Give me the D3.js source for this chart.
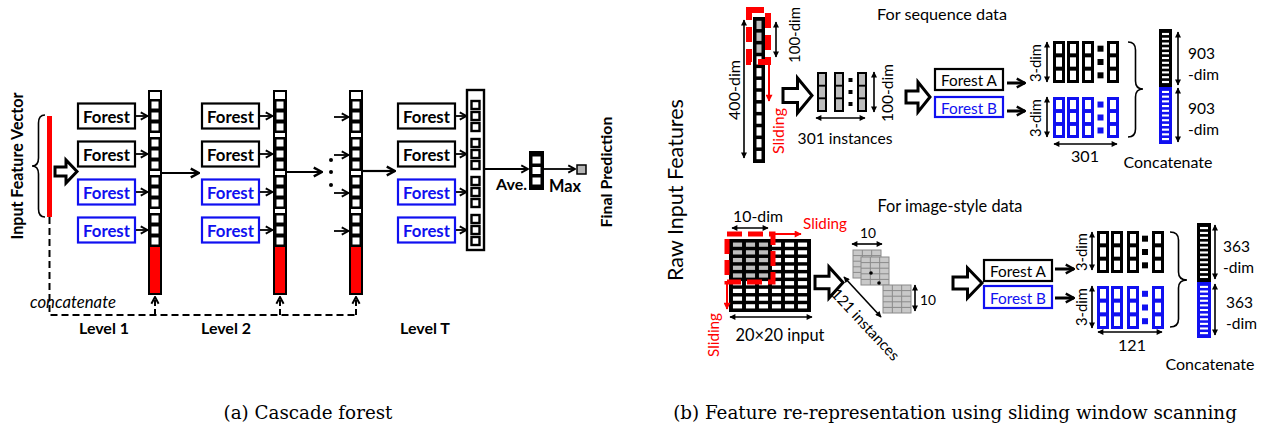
<!DOCTYPE html>
<html><head><meta charset="utf-8">
<script src="https://cdn.jsdelivr.net/npm/d3@7"></script>
<style>body{margin:0;background:#fff}svg{display:block}</style>
</head><body>
<script>
// ---------- data ----------
const levels = ["Level 1", "Level 2", "Level T"];
const forestRows = [0, 1, 2, 3];
const forestColors = ["#000", "#000", "#1010f0", "#1010f0"];
const forestLabel = "Forest";
const seqForests = ["Forest A", "Forest B"];
const seqDims = ["400-dim", "100-dim", "301 instances", "3-dim", "301", "903", "-dim"];
const imgDims = ["10-dim", "20×20 input", "10", "121 instances", "3-dim", "121", "363", "-dim"];
const captions = ["(a) Cascade forest", "(b) Feature re-representation using sliding window scanning"];
const seqCells = d3.range(12);
const instCells = d3.range(3);
const gridCols = d3.range(6), gridRows = d3.range(9);
const concatStripes = d3.range(11);

const BLUE = "#1010f0", RED = "#ff0000", GREY = "#bdbdbd";
const FONT = "Lato, 'Open Sans', sans-serif";

const svg = d3.select("body").append("svg").attr("width", 1271).attr("height", 431);
const defs = svg.append("defs");
function mk(id, d, color, filled, w, h, refX) {
  defs.append("marker").attr("id", id).attr("viewBox", "0 0 10 10")
    .attr("refX", refX).attr("refY", 5).attr("markerWidth", w).attr("markerHeight", h)
    .attr("markerUnits", "userSpaceOnUse").attr("orient", "auto-start-reverse")
    .append("path").attr("d", d)
    .attr("fill", filled ? color : "none").attr("stroke", filled ? "none" : color)
    .attr("stroke-width", filled ? 0 : 2.2).attr("stroke-linejoin", "miter");
}
mk("chev", "M1.5,1 L9,5 L1.5,9", "#000", false, 9, 10, 9);
mk("chevB", "M1.5,1 L9,5 L1.5,9", "#000", false, 11, 13, 9);
mk("tri", "M0,0 L10,5 L0,10 Z", "#000", true, 7, 6, 9);
mk("triR", "M0,0 L10,5 L0,10 Z", RED, true, 8, 7, 9);

function line(x1, y1, x2, y2, o = {}) {
  const l = svg.append("line").attr("x1", x1).attr("y1", y1).attr("x2", x2).attr("y2", y2)
    .attr("stroke", o.color || "#000").attr("stroke-width", o.w || 1.6);
  if (o.end) l.attr("marker-end", `url(#${o.end})`);
  if (o.start) l.attr("marker-start", `url(#${o.start})`);
  if (o.dash) l.attr("stroke-dasharray", o.dash);
  return l;
}
function dimArrow(x1, y1, x2, y2) { return line(x1, y1, x2, y2, {w: 1.6, start: "tri", end: "tri"}); }
function rect(x, y, w, h, fill, stroke, sw) {
  return svg.append("rect").attr("x", x).attr("y", y).attr("width", w).attr("height", h)
    .attr("fill", fill || "none").attr("stroke", stroke || "none").attr("stroke-width", sw || 0);
}
function txt(x, y, s, o = {}) {
  const t = svg.append("text").attr("x", x).attr("y", y).text(s)
    .attr("font-family", o.family || FONT).attr("font-size", o.size || 15)
    .attr("font-weight", o.weight || "normal").attr("font-style", o.style || "normal")
    .attr("fill", o.color || "#000").attr("text-anchor", o.anchor || "middle")
    .attr("dominant-baseline", "central");
  if (o.rotate !== undefined) t.attr("transform", `rotate(${o.rotate},${x},${y})`);
  if (o.fit) {
    let fs = +(o.size || 15);
    const L = t.node().getComputedTextLength();
    if (L > 0) t.attr("font-size", fs * o.fit / L);
  }
  return t;
}
function blockArrow(x0, y0, x1, y1) {
  const cy = (y0 + y1) / 2, h = y1 - y0, sh = h * 0.2, xh = x0 + (x1 - x0) * 0.5;
  svg.append("polygon").attr("points",
    [[x0, cy - sh], [xh, cy - sh], [xh, y0], [x1, cy], [xh, y1], [xh, cy + sh], [x0, cy + sh]].map(p => p.join(",")).join(" "))
    .attr("fill", "#fff").attr("stroke", "#000").attr("stroke-width", 3).attr("stroke-linejoin", "miter");
}
function brace(x0, x1, y0, y1, ym, dir) {
  const xm = (x0 + x1) / 2;
  const xo = dir < 0 ? x1 : x0, xp = dir < 0 ? x0 : x1;
  const r = 8;
  const d = `M${xo},${y0} Q${xm},${y0} ${xm},${y0 + r} L${xm},${ym - r} Q${xm},${ym} ${xp},${ym}` +
            ` Q${xm},${ym} ${xm},${ym + r} L${xm},${y1 - r} Q${xm},${y1} ${xo},${y1}`;
  svg.append("path").attr("d", d).attr("fill", "none").attr("stroke", "#000").attr("stroke-width", 1.6);
}

// ================= (a) Cascade forest =================
const rowY = d3.scalePoint().domain(forestRows).range([116, 230]);
const levelX = d3.scaleOrdinal().domain(levels).range([148, 273, 349]);
const forestX = d3.scaleOrdinal().domain(["Level 1", "Level 2", "Final"]).range([78, 202, 398]);
const colTop = 90, colBot = 295, redTop = 247;

txt(16, 166, "Input Feature Vector", {size: 14, weight: "bold", rotate: -90, fit: 147});
brace(32, 45, 115, 217, 166, -1);
rect(47, 116, 5, 101, RED);
blockArrow(55, 160, 77, 183);

svg.append("path").attr("d", `M49.5,217 L49.5,315 L${levelX("Level T") + 8},315`)
  .attr("fill", "none").attr("stroke", "#000").attr("stroke-width", 2).attr("stroke-dasharray", "7,4");
levels.forEach(l => line(levelX(l) + 7, 315, levelX(l) + 7, 297, {w: 2, dash: "6,3", end: "chev"}));
txt(30, 301, "concatenate", {size: 15, style: "italic", anchor: "start", fit: 86});

function forestBox(x, y, w, h, color, label, size, weight, fitW) {
  rect(x, y, w, h, "#fff", color, 2.2);
  txt(x + w / 2, y + h / 2 + 0.5, label, {size, weight, color, fit: fitW});
}
function levelColumn(x, w, withTop) {
  rect(x, colTop, w, colBot - colTop, "#000");
  if (withTop) rect(x + 2, colTop + 2, w - 4, 7, "#fff");
  forestRows.forEach(i => {
    const c = rowY(i);
    [-11, 0, 11].forEach(o => rect(x + 3.5, c + o - 3.5, w - 7, 7, "#fff"));
    if (i < 3) rect(x + 2, c + 17, w - 4, 4, "#fff");
  });
  rect(x + 2, redTop, w - 4, colBot - 2 - redTop, RED);
}
["Level 1", "Level 2"].forEach(l => {
  const fx = forestX(l);
  forestRows.forEach(i => {
    forestBox(fx, rowY(i) - 12.5, 57, 25, forestColors[i], forestLabel, 16, "bold", 47);
    line(fx + 58, rowY(i), levelX(l) - 0.5, rowY(i), {w: 1.8, end: "chev"});
  });
});
levels.forEach(l => levelColumn(levelX(l), 14, true));
line(levelX("Level 1") + 14, 173, forestX("Level 2") - 3, 173, {w: 2.2, end: "chevB"});
line(levelX("Level 2") + 14, 172, 322, 172, {w: 2.2, end: "chevB"});
[160, 172, 185].forEach(y => svg.append("circle").attr("cx", 331).attr("cy", y).attr("r", 2).attr("fill", "#000"));
forestRows.forEach(i => line(334, rowY(i) + 1, levelX("Level T") - 0.5, rowY(i) + 1, {w: 1.8, end: "chev"}));
line(levelX("Level T") + 14, 171, forestX("Final") - 3, 171, {w: 2.2, end: "chevB"});

const finX = 467, finW = 17;
forestRows.forEach(i => {
  forestBox(forestX("Final"), rowY(i) - 12.5, 57, 25, forestColors[i], forestLabel, 16, "bold", 47);
  line(forestX("Final") + 58, rowY(i), finX - 0.5, rowY(i), {w: 1.8, end: "chev"});
});
rect(finX, 90, finW, 160, "#fff", "#000", 2.4);
forestRows.forEach(i => [-11, 0, 11].forEach(o => rect(finX + 4.5, rowY(i) + o - 4, 8, 8, "#fff", "#000", 2.4)));
line(finX + finW, 169, 528, 169, {w: 1.8, end: "chev"});
rect(529, 151, 15, 39, "#000");
[160, 170.5, 181].forEach(y => rect(532.5, y - 3.5, 8, 7, "#fff"));
txt(527, 183, "Ave.", {size: 14, weight: "bold", anchor: "end", fit: 31});
line(544, 169, 575, 169, {w: 1.8, end: "chev"});
rect(577, 165, 9, 9, "#b5b5b5", "#000", 1.5);
txt(565, 185, "Max", {size: 14, weight: "bold", fit: 32});
txt(605, 172, "Final Prediction", {size: 13.5, weight: "bold", rotate: -90, fit: 111});
[104, 226, 425].forEach((x, i) => txt(x, 327, levels[i], {size: 14, weight: "bold", fit: 50}));

// ================= (b) Sliding window =================
txt(675, 190, "Raw Input Features", {size: 17, rotate: -90, fit: 182});
txt(942, 13, "For sequence data", {size: 15, fit: 130});

const seqTop = 17, seqBot = 163, seqX = 753, seqW = 12;
const seqY = d3.scaleBand().domain(seqCells).range([seqTop + 2, seqBot - 2]).paddingInner(0.3).paddingOuter(0.15);
rect(seqX, seqTop, seqW, seqBot - seqTop, "#000");
seqCells.forEach(i => rect(seqX + 3.5, seqY(i), seqW - 7, seqY.bandwidth(), i < 3 ? GREY : "#fff"));
rect(749, 10, 19, 52, "none", RED, 6).attr("stroke-dasharray", "15,7");
line(769, 64, 769, 101, {color: RED, w: 2, end: "triR"});
txt(777, 131, "Sliding", {size: 15, color: RED, rotate: -90, fit: 46});
dimArrow(744, 20, 744, 158);
txt(733, 90, seqDims[0], {size: 15, rotate: -90, fit: 60});
dimArrow(776, 22, 776, 57);
txt(794, 35, seqDims[1], {size: 15, rotate: -90, fit: 56});

blockArrow(783, 78, 812, 113);
function instCol(x, y, w, h) {
  rect(x, y, w, h, "#000");
  const b = d3.scaleBand().domain(instCells).range([y + 2, y + h - 2]).paddingInner(0.15);
  instCells.forEach(i => rect(x + 2, b(i), w - 4, b.bandwidth(), GREY));
}
[817, 834, 857].forEach(x => instCol(x, 72, 10, 40));
[80, 92, 104].forEach(y => rect(848.5, y - 2, 4, 4, "#000"));
dimArrow(874, 72, 874, 112);
txt(887, 93, seqDims[1], {size: 15, rotate: -90, fit: 58});
dimArrow(816, 118, 865, 118);
txt(845, 138, seqDims[2], {size: 15, fit: 95});

function forestPair(x, yA, hA, yB, hB, w) {
  forestBox(x, yA, w, hA, "#000", seqForests[0], 14, "normal", 56);
  forestBox(x, yB, w, hB, BLUE, seqForests[1], 14, "normal", 56);
}
blockArrow(906, 82, 930, 112);
forestPair(935, 69, 21, 97, 20, 68);

function outBlocks(xs, dotX, y, h, color) {
  xs.forEach(x => {
    rect(x, y, 12, h, color);
    const b = d3.scaleBand().domain(instCells).range([y + 3, y + h - 3]).paddingInner(0.3);
    instCells.forEach(i => rect(x + 3, b(i), 6, b.bandwidth(), "#fff"));
  });
  const b = d3.scaleBand().domain(instCells).range([y + 3, y + h - 3]).paddingInner(0.3);
  instCells.forEach(i => rect(dotX - 3, b(i) + b.bandwidth() / 2 - 3, 6, 6, color));
}
function concatCol(x, w, y0, ym, y1) {
  rect(x, y0, w, ym - y0, "#000");
  rect(x, ym, w, y1 - ym, BLUE);
  [[y0, ym], [ym, y1]].forEach(([a, bb]) => {
    const s = d3.scaleBand().domain(concatStripes).range([a + 2, bb - 2]).paddingInner(0.55).paddingOuter(0.4);
    concatStripes.forEach(i => rect(x + 3, s(i), w - 6, s.bandwidth(), "#fff"));
  });
}
line(1007, 83, 1025, 83, {w: 3, end: "chevB"});
line(1007, 111, 1025, 111, {w: 3, end: "chevB"});
txt(1035, 63, seqDims[3], {size: 14, rotate: -90, fit: 38});
txt(1035, 118, seqDims[3], {size: 14, rotate: -90, fit: 38});
dimArrow(1047, 42, 1047, 82);
dimArrow(1047, 97, 1047, 137);
outBlocks([1053, 1067, 1082, 1107], 1100.5, 41, 42, "#000");
outBlocks([1053, 1067, 1082, 1107], 1100.5, 97, 41, BLUE);
dimArrow(1054, 144, 1117, 144);
txt(1085, 155, seqDims[4], {size: 15, fit: 28});
brace(1128, 1143, 42, 137, 89, 1);
concatCol(1159, 13, 29, 87, 144);
dimArrow(1178, 32, 1178, 85);
dimArrow(1178, 88, 1178, 142);
txt(1188, 53, seqDims[5], {size: 16, anchor: "start", fit: 27});
txt(1188, 74, seqDims[6], {size: 16, anchor: "start", fit: 31});
txt(1188, 108, seqDims[5], {size: 16, anchor: "start", fit: 27});
txt(1188, 129, seqDims[6], {size: 16, anchor: "start", fit: 31});
txt(1168, 161, "Concatenate", {size: 15.5, fit: 89});

txt(950, 205, "For image-style data", {size: 15, fit: 145});
const gx = d3.scaleBand().domain(gridCols).range([731, 809]).paddingInner(0.3).paddingOuter(0.15);
const gy = d3.scaleBand().domain(gridRows).range([241, 310]).paddingInner(0.45).paddingOuter(0.2);
rect(729, 239, 82, 73, "#000");
gridRows.forEach(r => gridCols.forEach(c => rect(gx(c), gy(r), gx.bandwidth(), gy.bandwidth(), (c < 3 && r < 5) ? GREY : "#fff")));
rect(727, 234, 46, 48, "none", RED, 5).attr("stroke-dasharray", "15,6");
line(773, 234, 801, 234, {color: RED, w: 2, end: "triR"});
line(727, 282, 727, 309, {color: RED, w: 2, end: "triR"});
txt(803, 223, "Sliding", {size: 15, color: RED, anchor: "start", fit: 44});
txt(713, 335, "Sliding", {size: 15, color: RED, rotate: -90, fit: 44});
txt(758, 215, imgDims[0], {size: 15, fit: 50});
dimArrow(732, 228, 768, 228);
dimArrow(730, 317, 812, 317);
txt(780, 334, imgDims[1], {size: 15, fit: 89});

blockArrow(815, 267, 843, 298);
function patch(x, y) {
  rect(x, y, 28, 28, "#c9c9c9", "#8a8a8a", 1);
  [1, 2].forEach(k => line(x + k * 28 / 3, y, x + k * 28 / 3, y + 28, {color: "#8a8a8a", w: 1}));
  [1, 2, 3, 4].forEach(k => line(x, y + k * 28 / 5, x + 28, y + k * 28 / 5, {color: "#8a8a8a", w: 1}));
}
[[853, 250], [861, 257], [883, 285]].forEach(p => patch(p[0], p[1]));
svg.append("circle").attr("cx", 871).attr("cy", 273).attr("r", 1.8).attr("fill", "#000");
svg.append("circle").attr("cx", 879).attr("cy", 283).attr("r", 1.8).attr("fill", "#000");
dimArrow(852, 244, 882, 244);
txt(868, 232, imgDims[2], {size: 15, fit: 16});
dimArrow(915, 285, 915, 311);
txt(920, 299, imgDims[2], {size: 15, anchor: "start", fit: 16});
dimArrow(844, 277, 881, 317);
txt(866, 324, imgDims[3], {size: 15, rotate: 47, fit: 92});

blockArrow(953, 268, 982, 298);
forestBox(984, 260, 68, 21, "#000", seqForests[0], 14, "normal", 56);
forestBox(984, 286, 68, 22, BLUE, seqForests[1], 14, "normal", 56);
line(1055, 269, 1074, 269, {w: 3, end: "chevB"});
line(1055, 298, 1074, 298, {w: 3, end: "chevB"});
txt(1081, 252, imgDims[4], {size: 14, rotate: -90, fit: 38});
txt(1081, 307, imgDims[4], {size: 14, rotate: -90, fit: 38});
dimArrow(1092, 232, 1092, 270);
dimArrow(1092, 286, 1092, 328);
outBlocks([1097, 1111, 1127, 1152], 1145, 231, 42, "#000");
outBlocks([1097, 1111, 1127, 1152], 1145, 286, 43, BLUE);
dimArrow(1098, 332, 1162, 332);
txt(1132, 344, imgDims[5], {size: 15, fit: 28});
brace(1170, 1187, 232, 327, 280, 1);
concatCol(1197, 14, 223, 282, 338);
dimArrow(1215, 225, 1215, 279);
dimArrow(1215, 284, 1215, 335);
txt(1223, 246, imgDims[6], {size: 16, anchor: "start", fit: 27});
txt(1223, 267, imgDims[7], {size: 16, anchor: "start", fit: 31});
txt(1226, 302, imgDims[6], {size: 16, anchor: "start", fit: 27});
txt(1226, 323, imgDims[7], {size: 16, anchor: "start", fit: 31});
txt(1210, 363, "Concatenate", {size: 15.5, fit: 89});

// captions (same font size for both)
const capB = txt(955, 412, captions[1], {size: 17, family: "'DejaVu Serif', serif", fit: 564});
txt(308, 412, captions[0], {size: +capB.attr("font-size"), family: "'DejaVu Serif', serif"});
</script>
</body></html>
